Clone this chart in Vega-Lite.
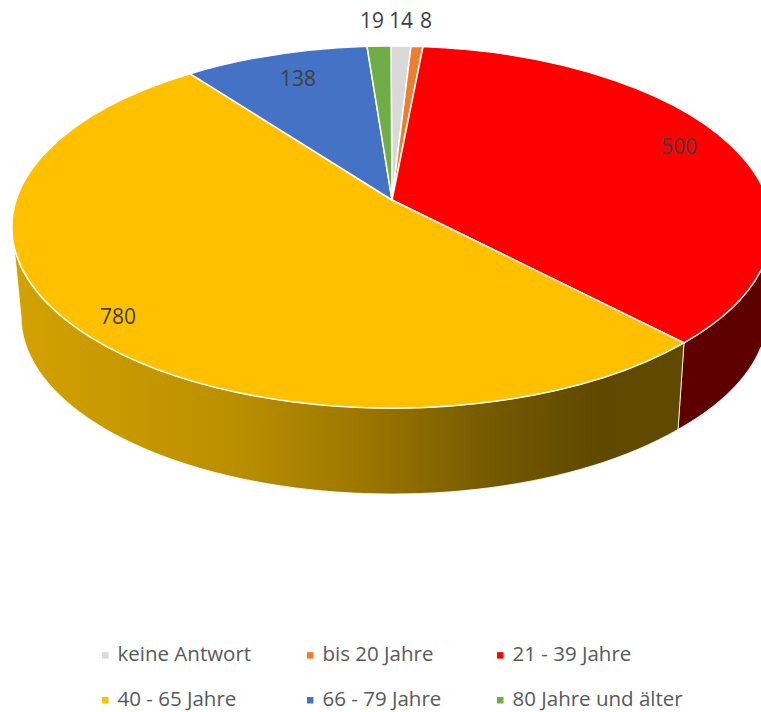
{"$schema":"https://vega.github.io/schema/vega-lite/v6.json","width":761,"height":712,"padding":0,"autosize":{"type":"none"},"background":"white","config":{"view":{"stroke":null},"text":{"font":"Open Sans"}},
"data":{"values":[{"category":"keine Antwort","value":14},{"category":"bis 20 Jahre","value":8},{"category":"21 - 39 Jahre","value":500},{"category":"40 - 65 Jahre","value":780},{"category":"66 - 79 Jahre","value":138},{"category":"80 Jahre und älter","value":19}]},
"layer":[
{"transform":[{"filter":"datum.category==='21 - 39 Jahre'"}],"mark":{"type":"point","filled":true,"opacity":1,"size":4,"shape":"M 303.5 -13.2 A 380 181 0 0 0 391.5 -129 L 391.5 -9 L 380.5 -9 A 371 178 0 0 1 297.5 73.4 Z","fill":"#5e0000","stroke":"#ffffff","strokeWidth":0.8}},
{"transform":[{"filter":"datum.category==='40 - 65 Jahre'"}],"mark":{"type":"point","filled":true,"opacity":1,"size":4,"shape":"M -366.5 -110.4 A 380 181 0 0 0 303.5 -13.2 L 297.5 73.4 A 371 178 0 0 1 -359.5 -40 Z","fill":{"gradient":"linear","x1":0,"y1":0,"x2":1,"y2":0,"stops":[{"offset":0,"color":"#d3a200"},{"offset":0.32,"color":"#bb9000"},{"offset":0.5,"color":"#a07a00"},{"offset":0.725,"color":"#725800"},{"offset":0.875,"color":"#5f4900"},{"offset":1,"color":"#614a00"}]},"stroke":"#ffffff","strokeWidth":0.8}},
{"mark":{"type":"point","filled":true,"opacity":1,"size":4,"stroke":"#ffffff","strokeWidth":1.5},"encoding":{
"fill":{"field":"category","type":"nominal","scale":{"domain":["keine Antwort","bis 20 Jahre","21 - 39 Jahre","40 - 65 Jahre","66 - 79 Jahre","80 Jahre und älter"],"range":["#d9d9d9","#ed7d31","#ff0000","#ffc000","#4472c4","#70ad47"]},
"legend":{"title":null,"orient":"none","direction":"horizontal","legendX":95,"legendY":645,"columns":3,"symbolType":"square","symbolSize":42,"symbolStrokeWidth":0,"labelFont":"Open Sans","labelFontSize":20.5,"labelColor":"#595959","labelOffset":2,"columnPadding":48,"rowPadding":24,"labelLimit":300}},
"shape":{"field":"value","type":"nominal","legend":null,"scale":{"domain":[14,8,500,780,138,19],"range":["M 11.5 -156 L 10.5 -310 A 380 181 0 0 1 30.5 -309.8 Z","M 11.5 -156 L 30.5 -309.8 A 380 181 0 0 1 42.5 -309.4 Z","M 11.5 -156 L 42.5 -309.4 A 380 181 0 0 1 303.5 -13.2 Z","M 11.5 -156 L 303.5 -13.2 A 380 181 0 1 1 -190.5 -282.3 Z","M 11.5 -156 L -190.5 -282.3 A 380 181 0 0 1 -13.5 -309.8 Z","M 11.5 -156 L -13.5 -309.8 A 380 181 0 0 1 10.5 -310 Z"]}}}},
{"transform":[{"filter":"datum.category==='80 Jahre und älter'"}],"mark":{"type":"text","fontSize":21,"color":"#404040","dx":-8.5,"dy":-334.5},"encoding":{"text":{"field":"value"}}},
{"transform":[{"filter":"datum.category==='keine Antwort'"}],"mark":{"type":"text","fontSize":21,"color":"#404040","dx":20.5,"dy":-334.5},"encoding":{"text":{"field":"value"}}},
{"transform":[{"filter":"datum.category==='bis 20 Jahre'"}],"mark":{"type":"text","fontSize":21,"color":"#404040","dx":45.5,"dy":-334.5},"encoding":{"text":{"field":"value"}}},
{"transform":[{"filter":"datum.category==='66 - 79 Jahre'"}],"mark":{"type":"text","fontSize":21,"color":"#404040","dx":-82.5,"dy":-276.5},"encoding":{"text":{"field":"value"}}},
{"transform":[{"filter":"datum.category==='21 - 39 Jahre'"}],"mark":{"type":"text","fontSize":21,"color":"#404040","dx":298.5,"dy":-208.5},"encoding":{"text":{"field":"value"}}},
{"transform":[{"filter":"datum.category==='40 - 65 Jahre'"}],"mark":{"type":"text","fontSize":21,"color":"#404040","dx":-262.5,"dy":-38.5},"encoding":{"text":{"field":"value"}}}
]}
